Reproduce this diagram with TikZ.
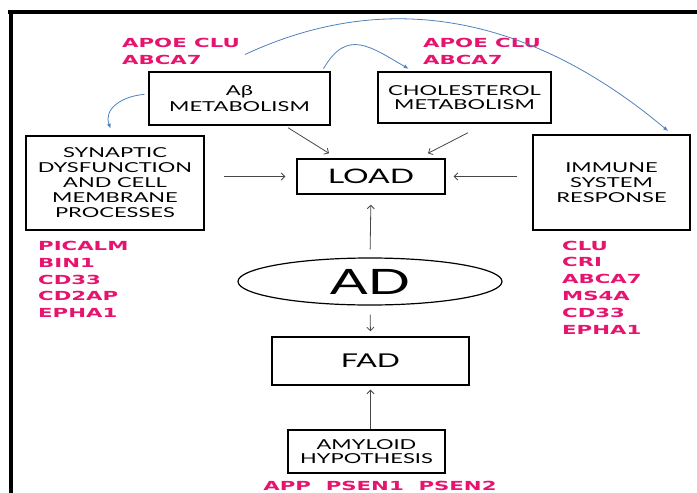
\documentclass[tikz,border=0pt]{standalone}
\usepackage{fontspec}
\setmainfont{Lato}[FakeStretch=1.6]
\newfontfamily\genefont{DejaVu Sans}[FakeStretch=1.7]
\usetikzlibrary{arrows.meta}
\usetikzlibrary{shapes.geometric}
\definecolor{genepink}{RGB}{230,20,110}
\definecolor{linkblue}{RGB}{79,129,189}
\definecolor{arrowgray}{RGB}{70,70,70}
\tikzset{
	box/.style={draw,line width=1.4pt,align=center,inner sep=0pt,font=\fontsize{13.7}{14.5}\selectfont},
	genes/.style={text=genepink,align=left,inner sep=0pt,anchor=west,font=\genefont\bfseries\fontsize{12.5}{16.8}\selectfont},
	feed/.style={draw=arrowgray,line width=0.8pt,-{Straight Barb[length=3.5pt,width=7pt]}},
	link/.style={draw=linkblue,line width=0.8pt,-{Latex[length=5pt,width=4pt]}}
}
\begin{document}
\begin{tikzpicture}[x=1pt,y=-1pt]
	\useasboundingbox (0,0) rectangle (697,493);
	\draw[line width=4pt] (8,12) -- (697,12);
	\draw[line width=4pt] (11,12) -- (11,493);
	\node[box,minimum width=181pt,minimum height=53pt,font=\fontsize{13.7}{15.5}\selectfont] (abeta) at (239.5,98.5) {Aβ\\METABOLISM};
	\node[box,minimum width=173pt,minimum height=51pt] (chol) at (464.5,97.5) {CHOLESTEROL\\METABOLISM};
	\node[box,minimum width=178pt,minimum height=94pt,font=\fontsize{13.7}{15}\selectfont] (syn) at (115,183) {SYNAPTIC\\DYSFUNCTION\\AND CELL\\MEMBRANE\\PROCESSES};
	\node[box,minimum width=148pt,minimum height=35pt,font=\fontsize{20}{24}\selectfont] (load) at (371,176.5) {LOAD};
	\node[box,minimum width=157pt,minimum height=95pt,font=\fontsize{13.7}{15}\selectfont] (imm) at (611.5,182.5) {IMMUNE\\SYSTEM\\RESPONSE};
	\node[draw,ellipse,line width=1.2pt,minimum width=264pt,minimum height=47pt,inner sep=0pt,font=\fontsize{35}{40}\selectfont] (ad) at (370,281.5) {AD};
	\node[box,minimum width=197pt,minimum height=48pt,font=\fontsize{19}{22}\selectfont] (fad) at (370.5,361) {FAD};
	\node[box,minimum width=157pt,minimum height=43pt] (amy) at (366.5,451.5) {AMYLOID\\HYPOTHESIS};
	\node[genes] (apoeL) at (122,51.5) {APOE CLU\\ABCA7};
	\node[genes] (apoeR) at (423,51.5) {APOE CLU\\ABCA7};
	\node[genes] (synGenes) at (38,279.5) {PICALM\\BIN1\\CD33\\CD2AP\\EPHA1};
	\node[genes] (immGenes) at (562,287.5) {CLU\\CRI\\ABCA7\\MS4A\\CD33\\EPHA1};
	\node[genes,anchor=center] (amyGenes) at (380,486) {APP\ \ PSEN1\ \ PSEN2};
	\draw[feed] ([xshift=48.5pt,yshift=-2pt]abeta.south) -- ([xshift=-42pt,yshift=5pt]load.north);
	\draw[feed] ([xshift=3.5pt,yshift=-9pt]chol.south) -- ([xshift=57pt,yshift=5pt]load.north);
	\draw[feed,shorten <=19pt,shorten >=11pt] (syn.east |- load.west) -- (load.west);
	\draw[feed,shorten <=15pt,shorten >=8pt] (imm.west |- load.east) -- (load.east);
	\draw[feed,shorten <=8pt,shorten >=10pt] (ad.north) -- (load.south);
	\draw[feed,shorten <=9pt,shorten >=5pt] (ad.south) -- (fad.north);
	\draw[feed,shorten >=4pt] (amy.north -| fad.south) -- (fad.south);
	\draw[link,shorten <=4pt,shorten >=7pt] ([yshift=4.5pt]abeta.west) to[out=185,in=110,looseness=1.3] ([xshift=-2pt]syn.north);
	\draw[link,shorten <=3pt,shorten >=5pt] ([xshift=82.5pt]abeta.north) to[out=60,in=150,looseness=1.4] ([xshift=-51.5pt]chol.north);
	\draw[link,shorten >=5pt] ([xshift=5pt,yshift=-3pt]apoeL.east) to[out=25,in=140] ([xshift=60.5pt]imm.north);
\end{tikzpicture}
\end{document}
